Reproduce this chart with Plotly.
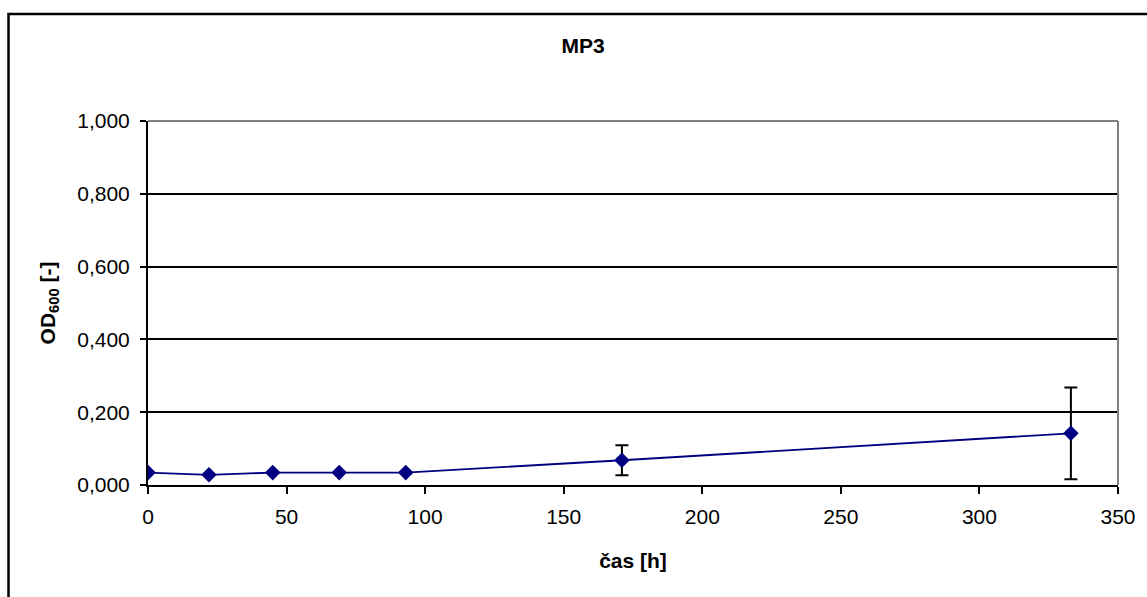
import plotly.graph_objects as go

# Measured optical density over time with error bars
cas_h = [0, 22, 45, 69, 93, 171, 333]
od600 = [0.034, 0.028, 0.034, 0.034, 0.034, 0.068, 0.142]
od_err = [0, 0, 0, 0, 0, 0.041, 0.126]

x_ticks = [0, 50, 100, 150, 200, 250, 300, 350]
y_ticks = [0.0, 0.2, 0.4, 0.6, 0.8, 1.0]

FONT = "Liberation Sans, Arial, sans-serif"

fig = go.Figure()
fig.add_trace(go.Scatter(
    x=cas_h,
    y=od600,
    mode="lines+markers",
    line=dict(color="#000080", width=1.8),
    marker=dict(symbol="diamond", size=12, color="#000080"),
    error_y=dict(type="data", array=od_err, visible=True,
                 color="black", thickness=2, width=6.5),
    showlegend=False,
))

L, R, T, B = 148, 29, 121, 112
W, H = 1147, 597
pw, ph = W - L - R, H - T - B

shapes = [
    # outer chart frame
    dict(type="rect", xref="paper", yref="paper",
         x0=(8.5 - L) / pw, x1=(W + 20 - L) / pw,
         y0=-(H + 20 - (T + ph)) / ph, y1=(T + ph - 14) / ph,
         line=dict(color="black", width=2.5), layer="below"),
    # plot area top and right border
    dict(type="line", xref="paper", yref="paper", x0=0, x1=1, y0=1, y1=1,
         line=dict(color="#808080", width=2), layer="above"),
    dict(type="line", xref="paper", yref="paper", x0=1, x1=1, y0=0, y1=1,
         line=dict(color="#808080", width=2), layer="above"),
]

fig.update_layout(
    width=W, height=H,
    margin=dict(l=L, r=R, t=T, b=B),
    paper_bgcolor="white",
    plot_bgcolor="white",
    separators=", ",
    font=dict(family=FONT, size=21, color="black"),
    title=dict(text="<b>MP3</b>", x=(583 - L) / pw, xref="paper",
               xanchor="center", y=1 - 46 / H, yanchor="middle",
               font=dict(family=FONT, size=21, color="black")),
    shapes=shapes,
    xaxis=dict(
        range=[0, 350], tickvals=x_ticks,
        showgrid=False, zeroline=False,
        showline=True, linecolor="black", linewidth=2,
        ticks="outside", ticklen=7, tickwidth=2, tickcolor="black",
        ticklabelstandoff=5,
        tickfont=dict(family=FONT, size=21),
        title=dict(text="<b>čas [h]</b>", standoff=26,
                   font=dict(family=FONT, size=21)),
    ),
    yaxis=dict(
        range=[0, 1.0], tickvals=y_ticks, tickformat=".3f",
        showgrid=True, gridcolor="black", gridwidth=2,
        zeroline=False,
        showline=True, linecolor="black", linewidth=2,
        ticks="outside", ticklen=6, tickwidth=2, tickcolor="black",
        ticklabelstandoff=6,
        tickfont=dict(family=FONT, size=21),
        title=dict(text="<b>OD<sub>600</sub> [-]</b>", standoff=16,
                   font=dict(family=FONT, size=21)),
    ),
)

fig.write_html("out.html")
